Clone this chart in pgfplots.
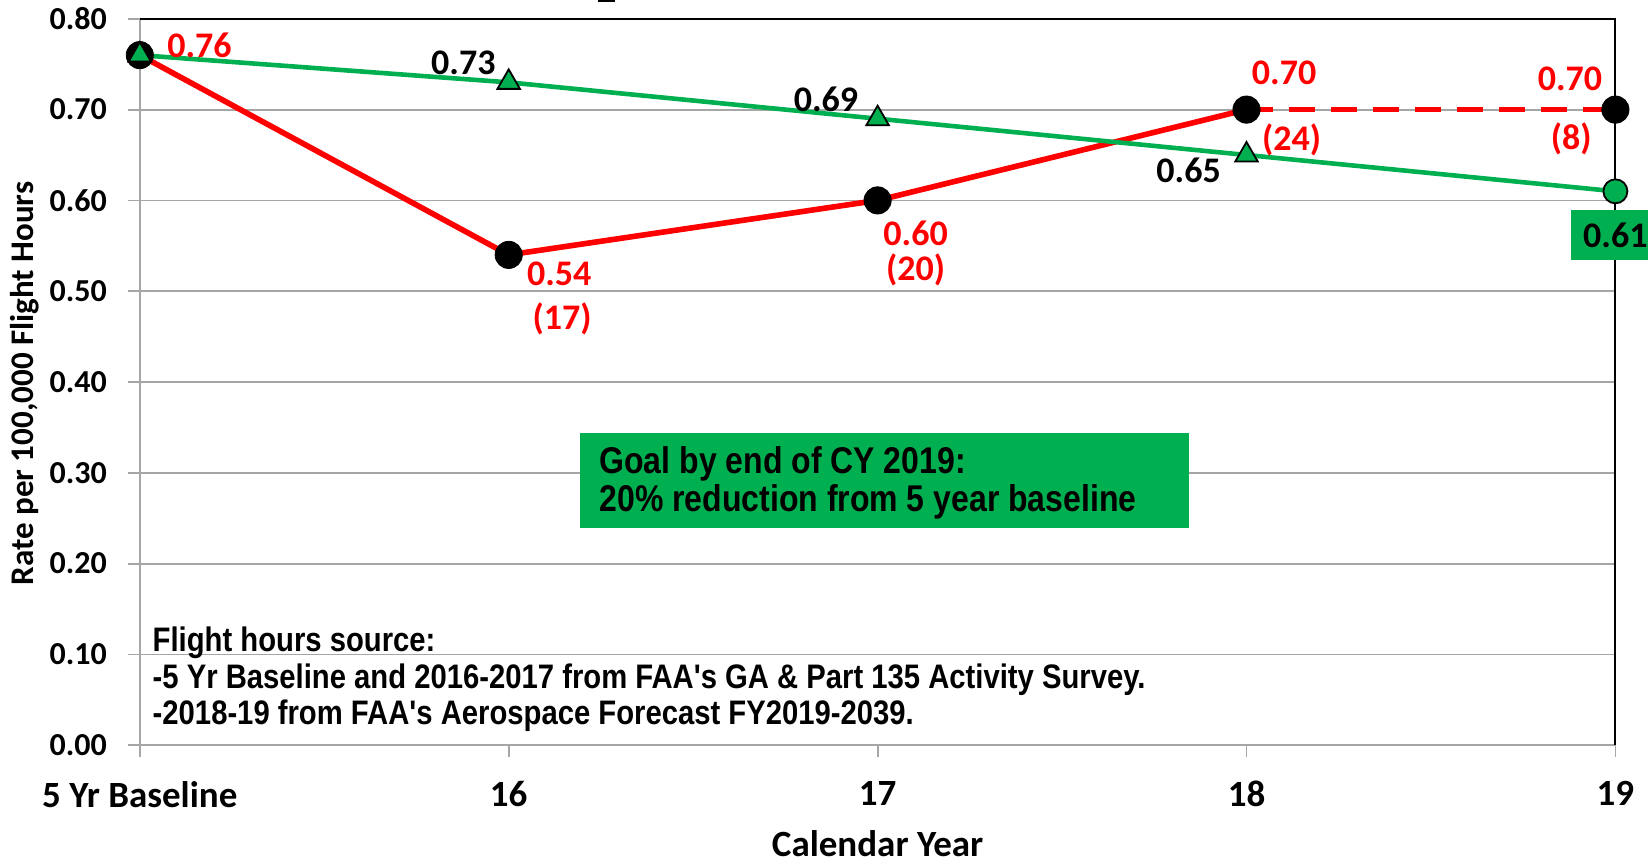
\documentclass[border=0pt]{standalone}
\usepackage{fontspec}
\setmainfont{Carlito}
\newfontfamily\arialn[FakeStretch=0.86]{Liberation Sans}
\usepackage{pgfplots}
\pgfplotsset{compat=1.18}
\definecolor{gline}{HTML}{00B050}
\definecolor{gbox}{HTML}{00B050}
\definecolor{gridg}{HTML}{A6A6A6}
\begin{document}
\begin{tikzpicture}
\begin{axis}[
  at={(0,0)}, anchor=south west,
  scale only axis, width=737.8pt, height=363.2pt,
  xmin=0, xmax=4, ymin=0, ymax=0.8,
  xtick={0,1,2,3,4},
  xticklabels={5 Yr Baseline,16,17,18,19},
  ytick={0,0.1,0.2,0.3,0.4,0.5,0.6,0.7,0.8},
  yticklabels={0.00,0.10,0.20,0.30,0.40,0.50,0.60,0.70,0.80},
  ymajorgrids, grid style={gridg, line width=0.9pt},
  axis line style={draw=none},
  tick align=outside, major tick length=6pt,
  tick style={gridg, line width=0.9pt},
  xtick pos=bottom, ytick pos=left,
  xticklabel style={font=\fontsize{18.5}{20}\selectfont\bfseries, yshift=-8.5pt},
  yticklabel style={font=\fontsize{16}{18}\selectfont\bfseries, xshift=-7pt},
  clip=false,
]
% axis frame
\draw[gridg, line width=0.9pt] (rel axis cs:0,0) -- (rel axis cs:1,0);
\draw[gridg, line width=0.9pt] (rel axis cs:0,0) -- (rel axis cs:0,1);
\draw[black, line width=1pt] (rel axis cs:0,1) -- (rel axis cs:1,1) -- (rel axis cs:1,0);
% goal box
\fill[gbox] (axis cs:1.194,0.239) rectangle (axis cs:2.843,0.344);
\node[anchor=base west, inner sep=0pt, font=\arialn\bfseries\fontsize{18.6}{20}\selectfont] at (axis cs:1.245,0.2987) {Goal by end of CY 2019:};
\node[anchor=base west, inner sep=0pt, font=\arialn\bfseries\fontsize{18.6}{20}\selectfont] at (axis cs:1.245,0.2571) {20\% reduction from 5 year baseline};
% source text
\node[anchor=base west, inner sep=0pt, font=\arialn\bfseries\fontsize{17}{18}\selectfont] at (axis cs:0.034,0.1032) {Flight hours source:};
\node[anchor=base west, inner sep=0pt, font=\arialn\bfseries\fontsize{17}{18}\selectfont] at (axis cs:0.034,0.0626) {-5 Yr Baseline and 2016-2017 from FAA's GA \& Part 135 Activity Survey.};
\node[anchor=base west, inner sep=0pt, font=\arialn\bfseries\fontsize{17}{18}\selectfont] at (axis cs:0.034,0.0232) {-2018-19 from FAA's Aerospace Forecast FY2019-2039.};
% red series
\addplot[red, line width=2.8pt, mark=none] coordinates {(0,0.76) (1,0.54) (2,0.60) (3,0.70)};
\addplot[red, line width=2.8pt, mark=none, dash pattern=on 13pt off 8pt] coordinates {(3,0.70) (4,0.70)};
\addplot[only marks, mark=*, mark size=6.8pt, mark options={fill=black, draw=black}] coordinates {(0,0.76) (1,0.54) (2,0.60) (3,0.70) (4,0.70)};
% green series
\addplot[gline, line width=2.3pt, mark=triangle*, mark size=6.5pt, mark indices={1,2,3,4},
  mark options={fill=gline, draw=black, line width=0.9pt}] coordinates {(0,0.76) (1,0.73) (2,0.69) (3,0.65) (4,0.61)};
\addplot[only marks, mark=*, mark size=6pt, mark options={fill=gline, draw=black, line width=0.9pt}] coordinates {(4,0.61)};
% data labels
\begin{scope}[every node/.style={font=\fontsize{18}{20}\selectfont\bfseries, inner sep=0pt}]
\node[red] at (axis cs:0.162,0.771) {0.76};
\node at (axis cs:0.877,0.751) {0.73};
\node at (axis cs:1.860,0.711) {0.69};
\node at (axis cs:2.843,0.633) {0.65};
\node[red] at (axis cs:3.102,0.740) {0.70};
\node[red] at (axis cs:3.122,0.667) {(24)};
\node[red] at (axis cs:3.877,0.734) {0.70};
\node[red] at (axis cs:3.880,0.668) {(8)};
\node[red] at (axis cs:1.137,0.519) {0.54};
\node[red] at (axis cs:1.145,0.470) {(17)};
\node[red] at (axis cs:2.103,0.564) {0.60};
\node[red] at (axis cs:2.103,0.523) {(20)};
\node[fill=gbox, minimum width=44pt, minimum height=25pt] at (axis cs:4,0.5615) {0.61};
\end{scope}
\end{axis}
\node[rotate=90, inner sep=0pt, font=\fontsize{16.5}{18}\selectfont\bfseries] at (-57.3pt,180.9pt) {Rate per 100,000 Flight Hours};
\node[inner sep=0pt, font=\fontsize{18.5}{20}\selectfont\bfseries] at (368.9pt,-49pt) {Calendar Year};
\fill[black] (229pt,371.5pt) rectangle (237.6pt,373pt);
\pgfresetboundingbox
\path[use as bounding box] (-69.9pt,-59.4pt) rectangle (754.1pt,372.6pt);
\end{tikzpicture}
\end{document}
